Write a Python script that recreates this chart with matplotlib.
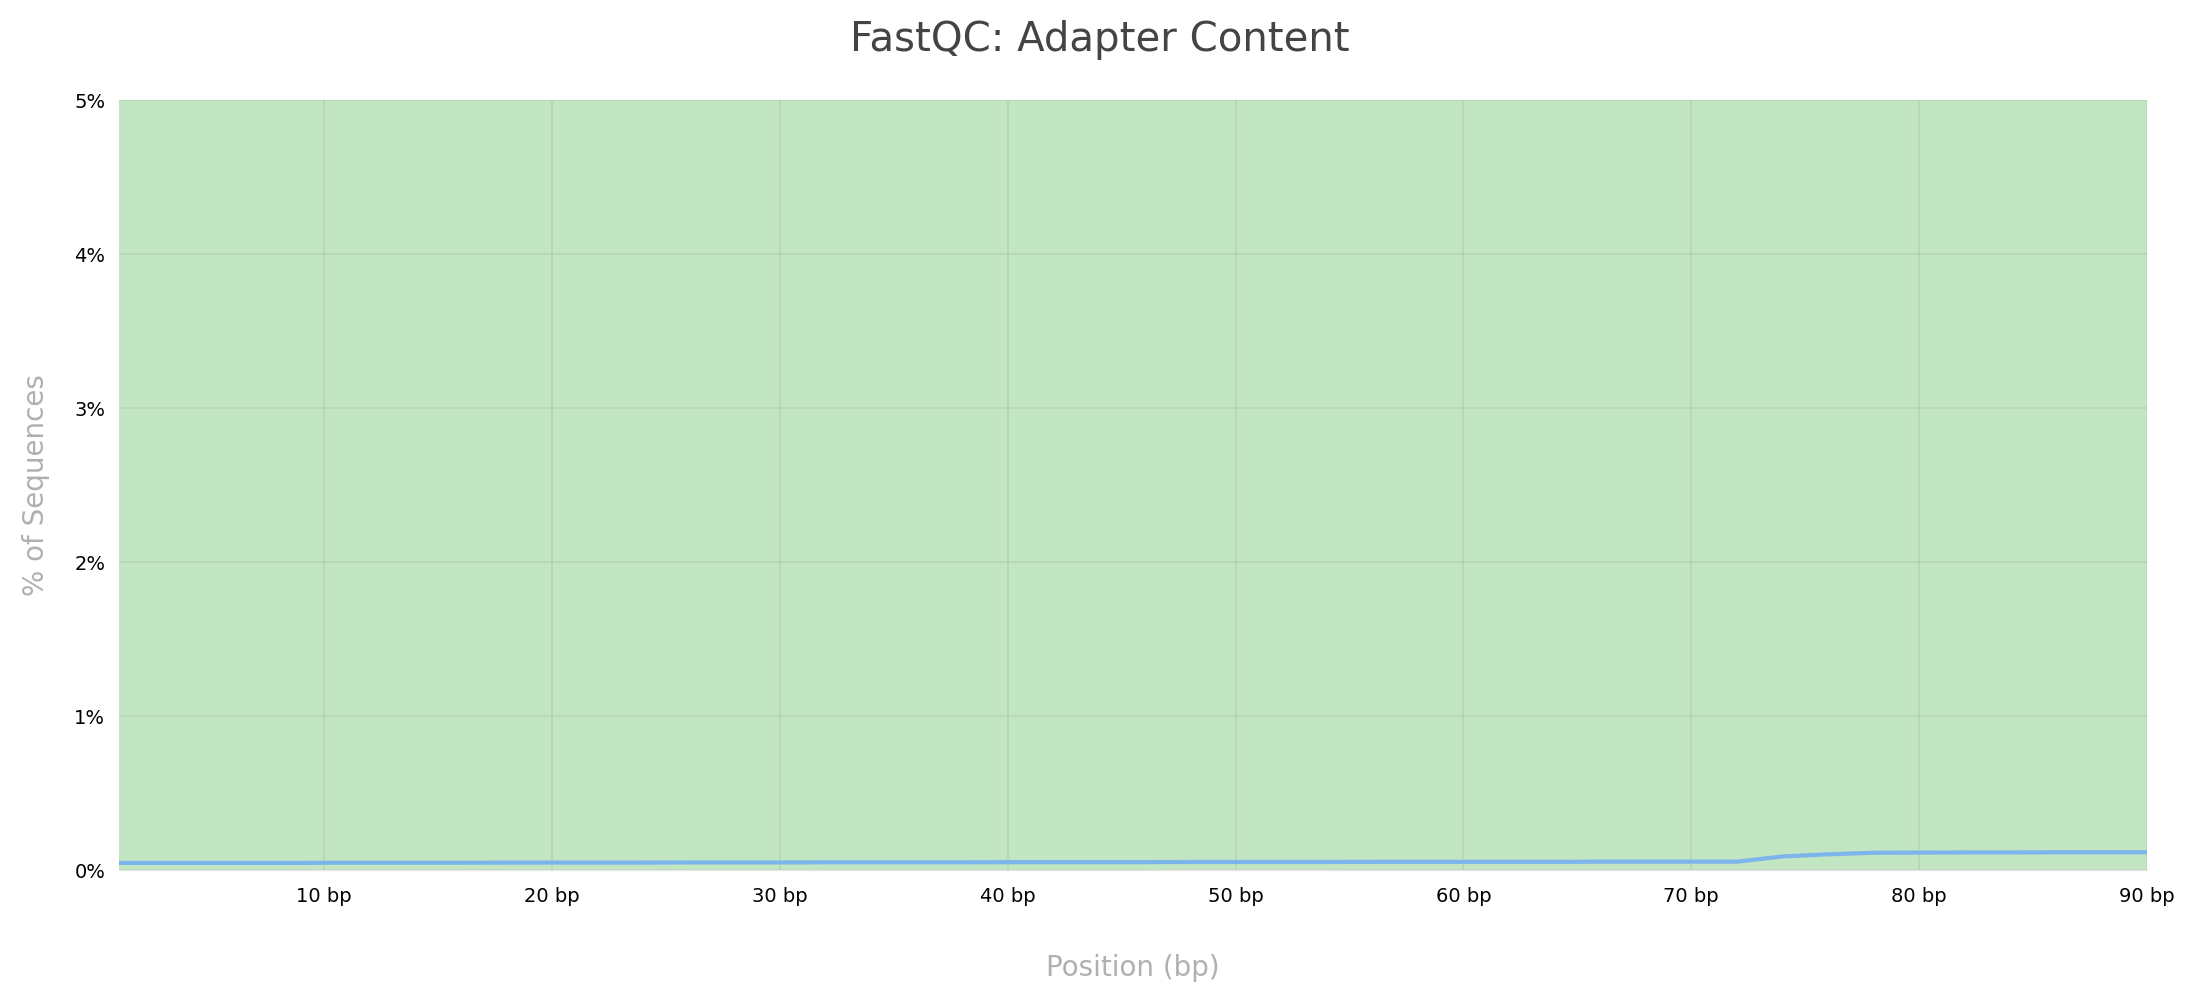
import matplotlib.pyplot as plt
from matplotlib.ticker import FuncFormatter

# FastQC adapter content, cumulative % of sequences per position
positions = [1, 2, 3, 4, 5, 6, 7, 8, 9,
             10, 12, 14, 16, 18, 20, 22, 24, 26, 28, 30, 32, 34, 36, 38,
             40, 42, 44, 46, 48, 50, 52, 54, 56, 58, 60, 62, 64, 66, 68,
             70, 72, 74, 76, 78, 80, 82, 84, 86, 88, 90]
adapter_pct = [0.046, 0.046, 0.046, 0.046, 0.046, 0.046, 0.046, 0.046, 0.046,
               0.047, 0.047, 0.047, 0.047, 0.048, 0.048, 0.048, 0.048, 0.049, 0.049, 0.049,
               0.050, 0.050, 0.050, 0.050, 0.051, 0.051, 0.051, 0.051, 0.052, 0.052,
               0.052, 0.052, 0.053, 0.053, 0.053, 0.053, 0.053, 0.054, 0.054,
               0.054, 0.054, 0.088, 0.102, 0.112, 0.113, 0.114, 0.114, 0.115, 0.115, 0.115]
x_ticks = [10, 20, 30, 40, 50, 60, 70, 80, 90]
y_ticks = [0, 1, 2, 3, 4, 5]

fig = plt.figure(figsize=(22, 10), dpi=100)
ax = fig.add_axes([0.0541, 0.13, 0.9218, 0.77])

ax.set_facecolor('#c2e5c2')
ax.plot(positions, adapter_pct, color='#7cb5ec', linewidth=3, zorder=3)

ax.set_xlim(1, 90)
ax.set_ylim(0, 5)
ax.set_xticks(x_ticks)
ax.set_yticks(y_ticks)
ax.xaxis.set_major_formatter(FuncFormatter(lambda v, p: f"{int(v)} bp"))
ax.yaxis.set_major_formatter(FuncFormatter(lambda v, p: f"{int(v)}%"))
ax.tick_params(axis='both', length=0, labelsize=14, colors='black')
ax.tick_params(axis='x', pad=12)
ax.tick_params(axis='y', pad=10)

ax.grid(True, color='#000000', alpha=0.06, linewidth=1.2)
ax.set_axisbelow(True)
for side in ['top', 'right', 'left']:
    ax.spines[side].set_visible(False)
ax.spines['bottom'].set_color('#e6e6e6')
ax.spines['bottom'].set_linewidth(1)

ax.set_xlabel('Position (bp)', fontsize=20, color='#b0b0b0', labelpad=35)
ax.set_ylabel('% of Sequences', fontsize=20, color='#b0b0b0', labelpad=17)

fig.suptitle('FastQC: Adapter Content', fontsize=29, color='#444444', y=0.98)

fig.savefig('out.png', dpi=100)
